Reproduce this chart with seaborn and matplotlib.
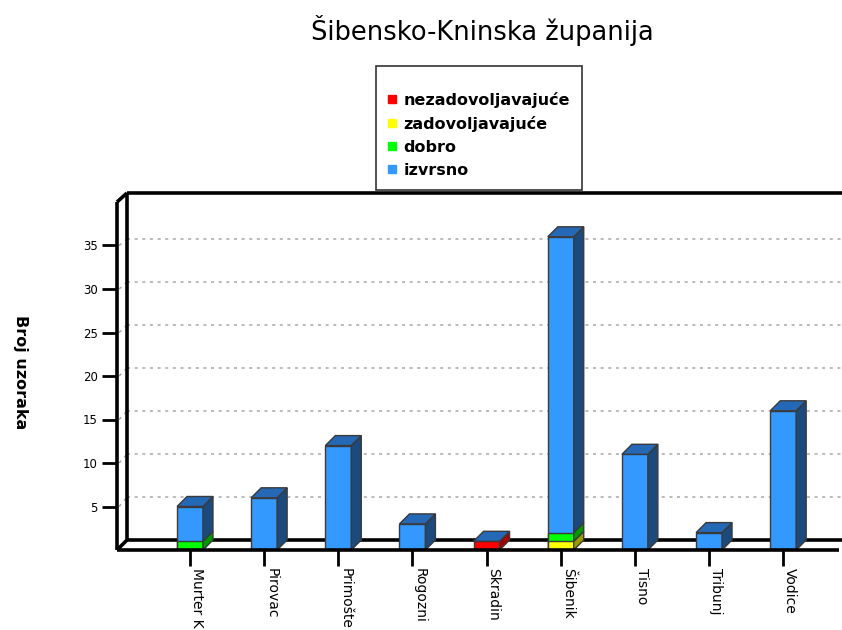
import numpy as np
import pandas as pd
import matplotlib.pyplot as plt
import seaborn as sns
from matplotlib.patches import Polygon
from matplotlib.lines import Line2D

places = ["Murter K", "Pirovac", "Primošte", "Rogozni", "Skradin",
          "Šibenik", "Tisno", "Tribunj", "Vodice"]
nezadovoljavajuce = [0, 0, 0, 0, 1, 0, 0, 0, 0]
zadovoljavajuce = [0, 0, 0, 0, 0, 1, 0, 0, 0]
dobro = [1, 0, 0, 0, 0, 1, 0, 0, 0]
izvrsno = [4, 6, 12, 3, 0, 34, 11, 2, 16]

levels = ["nezadovoljavajuće", "zadovoljavajuće", "dobro", "izvrsno"]
front_colors = ["#ff0000", "#ffff00", "#00ff00", "#3399ff"]
side_colors = ["#a80000", "#9a9a00", "#009a00", "#1c4a7c"]
top_color = "#2568b6"
edge = "#3a3a3a"

sns.set_style("white")
plt.rcParams["font.family"] = ["DejaVu Sans"]
plt.rcParams["text.color"] = "black"
plt.rcParams["xtick.color"] = "black"
plt.rcParams["ytick.color"] = "black"

fig = plt.figure(figsize=(8.42, 6.3), dpi=100)
ax = fig.add_axes([117 / 842, 80 / 630, 715 / 842, 348 / 630])

counts = np.array([nezadovoljavajuce, zadovoljavajuce, dobro, izvrsno])
tops = counts.cumsum(axis=0)
bottoms = tops - counts
bar_w = 0.35

# front faces: cumulative bars, drawn from the top level down
for i in range(3, -1, -1):
    d = pd.DataFrame({"mjesto": places, "broj": tops[i], "n": counts[i]})
    d = d[d["n"] > 0]
    sns.barplot(data=d, x="mjesto", y="broj", order=places, color=front_colors[i],
                width=bar_w, saturation=1, edgecolor=edge, linewidth=1,
                ax=ax, zorder=2)

px_per_unit = 8.7
ymax = 348 / px_per_unit
ax.set_ylim(0, ymax)
ax.set_xlim((117 - 190) / 74.15, (832 - 190) / 74.15)
ax.set_xlabel("")
ax.set_ylabel("")
for s in ax.spines.values():
    s.set_visible(False)

# 3d depth offset of the bars (pixels)
ddx, ddy = 10, 10
to_data = ax.transData.inverted()


def shift(x, y):
    px = ax.transData.transform((x, y))
    return to_data.transform((px[0] + ddx, px[1] + ddy))


for j in range(len(places)):
    x0, x1 = j - bar_w / 2, j + bar_w / 2
    top_level = None
    for i in range(4):
        if counts[i][j] == 0:
            continue
        y0, y1 = bottoms[i][j], tops[i][j]
        side = [(x1, y0), (x1, y1), shift(x1, y1), shift(x1, y0)]
        ax.add_patch(Polygon(side, closed=True, facecolor=side_colors[i],
                             edgecolor=edge, linewidth=1, zorder=2))
        top_level = i
    if top_level is not None:
        y1 = tops[top_level][j]
        top = [(x0, y1), (x1, y1), shift(x1, y1), shift(x0, y1)]
        ax.add_patch(Polygon(top, closed=True, facecolor=top_color,
                             edgecolor=edge, linewidth=1, zorder=2))

# frame of the pseudo-3d box, in axes fractions
bx, by = 10 / 715, 10 / 348
right = (842 - 117) / 715
frame = dict(color="black", lw=2.6, transform=ax.transAxes, clip_on=False,
             solid_capstyle="butt")
ax.plot([bx, bx], [by, 1 + by - 1 / 348], zorder=1, **frame)
ax.plot([bx, right], [1 + by - 1 / 348] * 2, zorder=1, **frame)
ax.plot([bx, right], [by, by], zorder=1, **frame)
ax.plot([0, bx], [1, 1 + by - 1 / 348], zorder=1, **frame)
ax.plot([0, bx], [0, by], zorder=1, **frame)
ax.plot([0, 0], [0, 1], zorder=4, **frame)
ax.plot([0, (839 - 117) / 715], [0, 0], zorder=4, **frame)

# dotted grid on the back wall (back wall is slightly compressed)
yticks = [5, 10, 15, 20, 25, 30, 35]
back_scale = 8.6 / px_per_unit
for v in yticks:
    yf = v / ymax
    yb = v * back_scale / ymax + by
    ax.plot([0.003, bx], [yf, yb], color="#a8a8a8", lw=1.1,
            ls=(0, (2, 3)), transform=ax.transAxes, zorder=0.5)
    ax.plot([bx, right], [yb, yb], color="#a8a8a8", lw=1.1,
            ls=(0, (2, 3)), transform=ax.transAxes, clip_on=False, zorder=0.5)

ax.set_yticks(yticks)
ax.set_xticks(range(len(places)))
ax.set_xticklabels(places, rotation=270, ha="left", va="top")
ax.tick_params(axis="y", direction="out", length=11, width=2, color="black",
               pad=3, labelsize=8.5, left=True)
ax.tick_params(axis="x", direction="out", length=11.5, width=2, color="black",
               pad=1.5, labelsize=10, bottom=True)

fig.text(482 / 842, 1 - 30 / 630, "Šibensko-Kninska županija",
         fontsize=18.5, ha="center", va="center")
fig.text(20 / 842, 1 - 372 / 630, "Broj uzoraka", rotation=270,
         fontsize=11.5, fontweight="bold", ha="center", va="center")

handles = [Line2D([], [], marker="s", ls="", markersize=5.5, color=c,
                  markeredgecolor=c) for c in front_colors]
leg = fig.legend(handles, levels, loc="upper left",
                 bbox_to_anchor=(376 / 842, 1 - 66 / 630), title=" ",
                 prop={"weight": "bold", "size": 11.5}, title_fontsize=5,
                 frameon=True, fancybox=False, edgecolor="black",
                 borderpad=0.75, labelspacing=0.5, handlelength=0.5,
                 handletextpad=0.45, borderaxespad=0)
leg.get_frame().set_linewidth(1.2)

fig.savefig("out.png", dpi=100)
